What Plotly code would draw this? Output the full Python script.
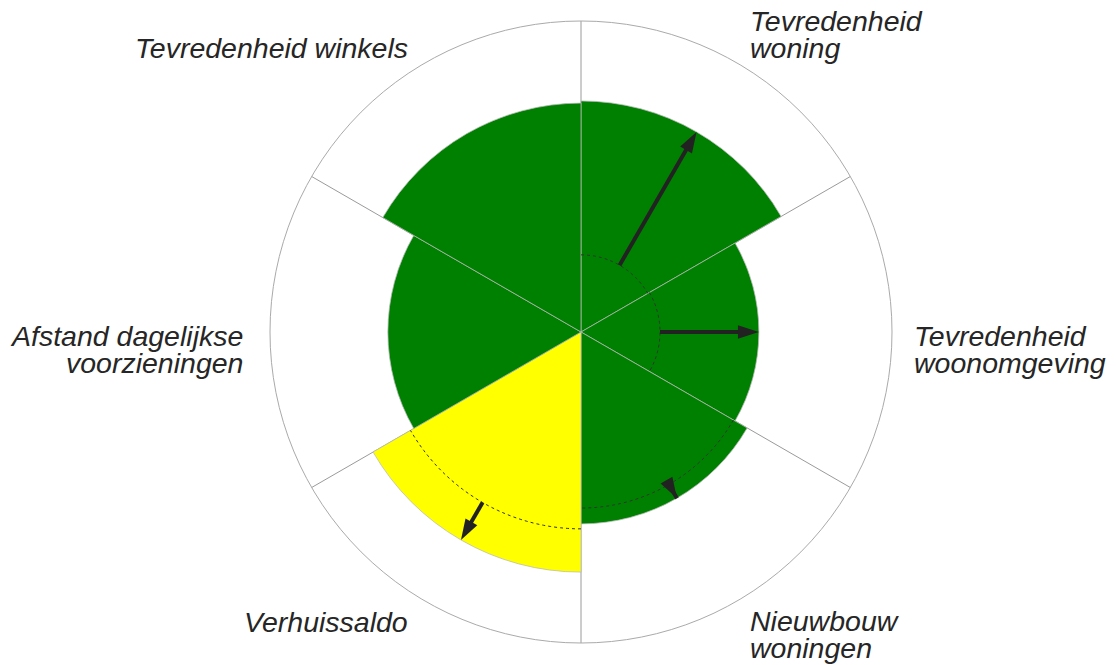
import numpy as np
import plotly.graph_objects as go

# ---- data (radial scale 0..100, outer circle = 100) ----
categories = ["Tevredenheid woning", "Tevredenheid woonomgeving", "Nieuwbouw woningen",
              "Verhuissaldo", "Afstand dagelijkse voorzieningen", "Tevredenheid winkels"]
sector_center = [30, 90, 150, 210, 270, 330]
current_values = [74.3, 57.2, 61.7, 77.2, 62.1, 73.6]
previous_values = [24.8, 25.4, 56.6, 63.3, None, None]
status = ["good", "good", "good", "neutral", "good", "good"]

# label lines per category
label_lines = {
    "Tevredenheid woning": ["Tevredenheid", "woning"],
    "Tevredenheid woonomgeving": ["Tevredenheid", "woonomgeving"],
    "Nieuwbouw woningen": ["Nieuwbouw", "woningen"],
    "Verhuissaldo": ["Verhuissaldo"],
    "Afstand dagelijkse voorzieningen": ["Afstand dagelijkse", "voorzieningen"],
    "Tevredenheid winkels": ["Tevredenheid winkels"],
}

# ---- styling ----
W, H = 1116, 665
PAGE_OFFSET = 8  # browser body margin shifts the figure by this many pixels
CX, CY, R = 581 - PAGE_OFFSET, 332 - PAGE_OFFSET, 311
color_map = {"good": "#008000", "neutral": "#ffff00"}
SECTOR_WIDTH = 60
FONT = dict(family="Liberation Sans, Arial, sans-serif", size=28.5, color="#262626", style="italic")

fig = go.Figure()

fig.add_trace(go.Barpolar(
    r=current_values, theta=sector_center, width=[SECTOR_WIDTH] * len(categories),
    marker=dict(color=[color_map[s] for s in status],
                line=dict(color="rgba(185,185,185,0.75)", width=1)),
    text=categories, hoverinfo="text+r", showlegend=False,
))

# previous-value dotted arcs and arrows
for cat, t, cur, prev in zip(categories, sector_center, current_values, previous_values):
    if prev is None:
        continue
    arc_theta = np.arange(t - SECTOR_WIDTH / 2, t + SECTOR_WIDTH / 2 + 0.5, 1.0)
    fig.add_trace(go.Scatterpolar(
        r=[prev] * len(arc_theta), theta=arc_theta, mode="lines",
        line=dict(color="#333333", width=1, dash="dot"),
        hoverinfo="skip", showlegend=False,
    ))
    fig.add_trace(go.Scatterpolar(
        r=[prev, cur], theta=[t, t], mode="lines+markers",
        line=dict(color="#222222", width=4),
        marker=dict(symbol=["circle", "arrow"], size=[0, 22], color="#222222",
                    opacity=1, line=dict(width=0), angleref="previous"),
        hoverinfo="skip", showlegend=False,
    ))

fig.update_layout(
    width=W, height=H,
    margin=dict(l=0, r=0, t=0, b=0),
    paper_bgcolor="white",
    polar=dict(
        domain=dict(x=[(CX - R) / W, (CX + R) / W], y=[1 - (CY + R) / H, 1 - (CY - R) / H]),
        bgcolor="white",
        bargap=0,
        radialaxis=dict(range=[0, 100], visible=False, showgrid=False),
        angularaxis=dict(
            rotation=90, direction="clockwise",
            tickmode="array", tickvals=[0, 60, 120, 180, 240, 300],
            showticklabels=False, ticks="",
            showgrid=True, gridcolor="#9a9a9a", gridwidth=1,
            showline=True, linecolor="#aaaaaa", linewidth=1,
        ),
    ),
)

# label placement (pixel positions of each text line, in the reference picture)
label_pos = {
    "Tevredenheid woning": [(748, 21, "left"), (748, 48, "left")],
    "Tevredenheid woonomgeving": [(912, 336, "left"), (912, 363, "left")],
    "Nieuwbouw woningen": [(748, 621, "left"), (748, 648, "left")],
    "Verhuissaldo": [(410, 622, "right")],
    "Afstand dagelijkse voorzieningen": [(245, 336, "right"), (245, 363, "right")],
    "Tevredenheid winkels": [(410, 48, "right")],
}
for cat in categories:
    for line_text, (px, py, anchor) in zip(label_lines[cat], label_pos[cat]):
        fig.add_annotation(
            x=(px - PAGE_OFFSET) / W, y=1 - (py - PAGE_OFFSET) / H, xref="paper", yref="paper",
            text=line_text, showarrow=False, xanchor=anchor, yanchor="middle",
            font=FONT,
        )

fig.write_html("out.html")
